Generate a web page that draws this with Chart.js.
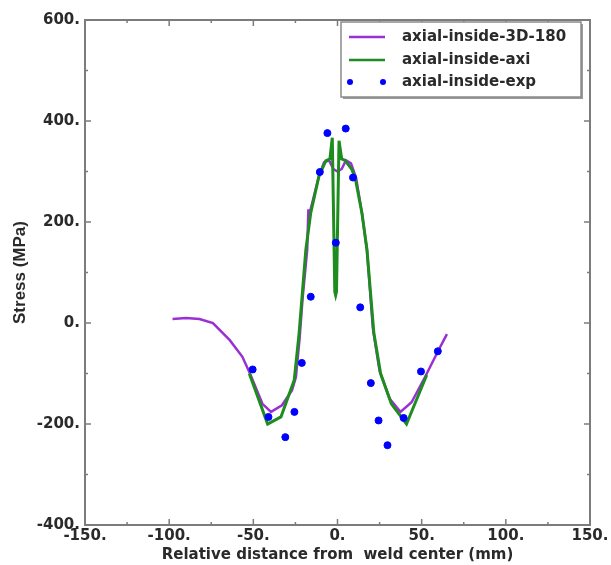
<!DOCTYPE html>
<html>
<head>
<meta charset="utf-8">
<script src="https://cdn.jsdelivr.net/npm/chart.js@4.4.1/dist/chart.umd.min.js"></script>
<style>
  html, body { margin: 0; padding: 0; background: #fff; }
  #wrap { width: 611px; height: 565px; }
</style>
</head>
<body>
<div id="wrap"><canvas id="stress-chart"></canvas></div>
<script>
// axial-inside-3D-180 (purple)
const sim3dX = [-98, -90, -82, -74, -64, -56.5, -52, -44.6, -39.5, -33, -27, -24.7, -22.5, -20.8, -18, -17.3, -17, -16, -11, -8, -5, -2.5, 0, 2.5, 5, 8, 11, 14.5, 17.5, 21, 25, 31, 37.4, 44, 52, 60, 65];
const sim3dY = [8, 10, 8, 0, -34, -67, -100, -160, -176, -163, -133, -107, -30, 46, 145, 225, 200, 225, 291, 318, 322, 305, 300, 305, 322, 316, 288, 218, 145, -10, -95, -150, -176, -157, -107, -54, -22];

// axial-inside-axi (green)
const axiX = [-52.4, -41.5, -33.6, -25.7, -22.8, -18.8, -15.9, -11, -7, -4.5, -3.1, -1.6, -1.1, -0.6, 0.9, 2.5, 4.5, 8.6, 10.7, 14.5, 17.5, 21.6, 25.6, 32, 41, 53];
const axiY = [-100, -200, -186, -113, -20, 145, 218, 291, 321, 325, 367, 62, 55, 62, 361, 325, 322, 304, 284, 218, 145, -20, -100, -160, -200, -103];

// axial-inside-exp (blue dots)
const expX = [-50.4, -41, -31, -25.6, -21.2, -15.9, -10.5, -6, -1, 4.9, 9.2, 13.5, 19.8, 24.4, 29.7, 39.3, 49.6, 59.6];
const expY = [-92, -186, -226, -176, -79, 52, 299, 376, 159, 385, 288, 31, -119, -193, -242, -188, -96, -56];

const xMin = -150, xMax = 150, xStep = 50;
const yMin = -400, yMax = 600, yStep = 200;

const labelFont = { family: 'DejaVu Sans', size: 15, weight: 'bold' };
const textColor = '#2a2a2a';
const frameColor = '#7c7c7c';

function toPoints(xs, ys) {
    return xs.map((x, i) => ({ x: x, y: ys[i] }));
}

// frame with inward ticks on all four sides
const framePlugin = {
    id: 'frame',
    afterDraw(chart) {
        const ctx = chart.ctx;
        const area = chart.chartArea;
        const xs = chart.scales.x;
        const ys = chart.scales.y;
        ctx.save();
        ctx.strokeStyle = frameColor;
        ctx.lineWidth = 2;
        ctx.strokeRect(area.left, area.top, area.right - area.left, area.bottom - area.top);
        ctx.lineWidth = 1.5;
        ctx.beginPath();
        for (let v = xMin; v <= xMax; v += xStep / 2) {
            const px = xs.getPixelForValue(v);
            const len = (v % xStep === 0) ? 6 : 3;
            ctx.moveTo(px, area.bottom); ctx.lineTo(px, area.bottom - len);
            ctx.moveTo(px, area.top); ctx.lineTo(px, area.top + len);
        }
        for (let v = yMin; v <= yMax; v += yStep / 2) {
            const py = ys.getPixelForValue(v);
            const len = (v % yStep === 0) ? 6 : 3;
            ctx.moveTo(area.left, py); ctx.lineTo(area.left + len, py);
            ctx.moveTo(area.right, py); ctx.lineTo(area.right - len, py);
        }
        ctx.stroke();
        ctx.restore();
    }
};

// boxed legend in the upper right corner
const legendPlugin = {
    id: 'boxLegend',
    afterDraw(chart) {
        const ctx = chart.ctx;
        const bx = 341, by = 22, bw = 240, bh = 75;
        ctx.save();
        ctx.fillStyle = '#9a9a9a';
        ctx.fillRect(bx + 2, by + 2, bw, bh);
        ctx.fillStyle = '#fff';
        ctx.fillRect(bx, by, bw, bh);
        ctx.strokeStyle = '#8a8a8a';
        ctx.lineWidth = 1.5;
        ctx.strokeRect(bx, by, bw, bh);

        ctx.font = 'bold 15px "DejaVu Sans"';
        ctx.textBaseline = 'middle';
        ctx.textAlign = 'left';
        const rows = [37, 60, 82];
        chart.data.datasets.forEach((ds, i) => {
            const y = rows[i];
            if (ds.showLine === false) {
                ctx.fillStyle = ds.pointBackgroundColor;
                [350, 383].forEach(px => {
                    ctx.beginPath();
                    ctx.arc(px, y, 3, 0, Math.PI * 2);
                    ctx.fill();
                });
            } else {
                ctx.strokeStyle = ds.borderColor;
                ctx.lineWidth = 2.5;
                ctx.beginPath();
                ctx.moveTo(349, y);
                ctx.lineTo(385, y);
                ctx.stroke();
            }
            ctx.fillStyle = textColor;
            ctx.fillText(ds.label, 402, y);
        });
        ctx.restore();
    }
};

new Chart(document.getElementById('stress-chart'), {
    type: 'line',
    data: {
        datasets: [
            {
                label: 'axial-inside-3D-180',
                data: toPoints(sim3dX, sim3dY),
                borderColor: '#9a30d4',
                borderWidth: 2.5,
                pointRadius: 0,
                fill: false,
                tension: 0,
                order: 3
            },
            {
                label: 'axial-inside-axi',
                data: toPoints(axiX, axiY),
                borderColor: '#1e8c1e',
                borderWidth: 3,
                pointRadius: 0,
                fill: false,
                tension: 0,
                order: 2
            },
            {
                label: 'axial-inside-exp',
                data: toPoints(expX, expY),
                showLine: false,
                pointRadius: 3.5,
                pointBackgroundColor: '#0000ff',
                pointBorderColor: '#0000ff',
                borderColor: '#0000ff',
                order: 1
            }
        ]
    },
    options: {
        responsive: true,
        maintainAspectRatio: false,
        animation: false,
        layout: { padding: { top: 20, right: 21, left: 0, bottom: 0 } },
        plugins: {
            legend: { display: false },
            tooltip: { enabled: false }
        },
        scales: {
            x: {
                type: 'linear',
                min: xMin,
                max: xMax,
                grid: { display: false, drawTicks: false },
                border: { display: false },
                ticks: {
                    stepSize: xStep,
                    padding: 2,
                    color: textColor,
                    font: labelFont,
                    maxRotation: 0,
                    callback: v => v + '.'
                },
                title: {
                    display: true,
                    text: 'Relative distance from  weld center (mm)',
                    color: textColor,
                    font: labelFont,
                    padding: { top: 1, bottom: 1 }
                },
                afterFit: scale => { scale.height = 40; }
            },
            y: {
                type: 'linear',
                min: yMin,
                max: yMax,
                grid: { display: false, drawTicks: false },
                border: { display: false },
                ticks: {
                    stepSize: yStep,
                    padding: 5,
                    color: textColor,
                    font: labelFont,
                    callback: v => v + '.'
                },
                title: {
                    display: true,
                    text: 'Stress (MPa)',
                    color: textColor,
                    font: { family: 'Liberation Sans', size: 17, weight: 'bold' },
                    padding: { top: 10, bottom: 0 }
                },
                afterFit: scale => { scale.width = 85; }
            }
        }
    },
    plugins: [framePlugin, legendPlugin]
});
</script>
</body>
</html>
